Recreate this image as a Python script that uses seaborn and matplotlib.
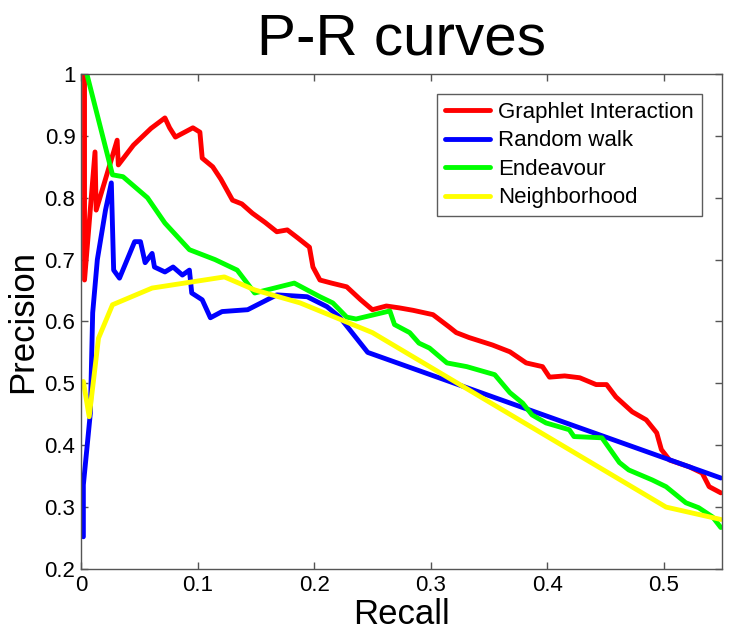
import numpy as np
import pandas as pd
import matplotlib
matplotlib.use("Agg")
import matplotlib.pyplot as plt
import seaborn as sns

# values
gi_recall = [0.003, 0.003, 0.012, 0.013, 0.031, 0.032, 0.045, 0.060, 0.072, 0.076, 0.081,
             0.096, 0.102, 0.104, 0.113, 0.120, 0.130, 0.138, 0.147, 0.158, 0.168, 0.177,
             0.186, 0.196, 0.199, 0.205, 0.215, 0.228, 0.240, 0.250, 0.262, 0.273, 0.285,
             0.302, 0.316, 0.322, 0.333, 0.343, 0.353, 0.368, 0.382, 0.396, 0.402, 0.415,
             0.428, 0.442, 0.451, 0.459, 0.473, 0.485, 0.494, 0.498, 0.505, 0.522, 0.533,
             0.539, 0.549]
gi_precision = [1.0, 0.667, 0.874, 0.78, 0.893, 0.853, 0.885, 0.912, 0.929, 0.913, 0.898,
                0.913, 0.906, 0.864, 0.85, 0.83, 0.796, 0.790, 0.775, 0.760, 0.745, 0.748,
                0.735, 0.72, 0.688, 0.667, 0.662, 0.656, 0.635, 0.619, 0.625, 0.622, 0.618,
                0.611, 0.591, 0.582, 0.574, 0.568, 0.562, 0.551, 0.533, 0.527, 0.51, 0.512,
                0.509, 0.498, 0.498, 0.478, 0.454, 0.441, 0.42, 0.393, 0.376, 0.365, 0.355,
                0.333, 0.323]

rw_recall = [0.002, 0.002, 0.008, 0.010, 0.014, 0.021, 0.026, 0.028, 0.033, 0.046, 0.051,
             0.055, 0.061, 0.063, 0.072, 0.079, 0.087, 0.093, 0.095, 0.104, 0.111, 0.121,
             0.143, 0.168, 0.194, 0.211, 0.222, 0.246, 0.549]
rw_precision = [0.252, 0.336, 0.452, 0.614, 0.70, 0.78, 0.824, 0.683, 0.67, 0.729, 0.729,
                0.695, 0.71, 0.688, 0.68, 0.688, 0.675, 0.683, 0.646, 0.635, 0.606, 0.616,
                0.619, 0.643, 0.64, 0.624, 0.607, 0.55, 0.347]

en_recall = [0.005, 0.027, 0.036, 0.057, 0.072, 0.093, 0.115, 0.134, 0.149, 0.166, 0.183,
             0.205, 0.216, 0.228, 0.236, 0.265, 0.269, 0.282, 0.290, 0.299, 0.314, 0.331,
             0.355, 0.368, 0.379, 0.387, 0.399, 0.419, 0.423, 0.447, 0.462, 0.470, 0.490,
             0.502, 0.519, 0.530, 0.542, 0.549]
en_precision = [1.0, 0.837, 0.834, 0.80, 0.759, 0.716, 0.70, 0.683, 0.646, 0.654, 0.662,
                0.64, 0.63, 0.607, 0.604, 0.617, 0.595, 0.582, 0.565, 0.557, 0.533, 0.527,
                0.514, 0.485, 0.468, 0.449, 0.436, 0.425, 0.414, 0.412, 0.372, 0.36, 0.344,
                0.333, 0.307, 0.299, 0.284, 0.267]

nb_recall = [0.002, 0.007, 0.015, 0.027, 0.061, 0.123, 0.149, 0.188, 0.250, 0.502, 0.549]
nb_precision = [0.503, 0.446, 0.573, 0.627, 0.654, 0.672, 0.651, 0.63, 0.582, 0.30, 0.28]

names = ["Graphlet Interaction", "Random walk", "Endeavour", "Neighborhood"]
colors = ["#ff0000", "#0000ff", "#00ff00", "#ffff00"]

frames = []
for name, r, p in zip(names,
                      [gi_recall, rw_recall, en_recall, nb_recall],
                      [gi_precision, rw_precision, en_precision, nb_precision]):
    frames.append(pd.DataFrame({"Recall": r, "Precision": p, "Method": name}))
df = pd.concat(frames, ignore_index=True)

sns.set_style("white")
plt.rcParams["font.family"] = ["Liberation Sans", "DejaVu Sans"]
plt.rcParams["text.color"] = "black"
plt.rcParams["axes.labelcolor"] = "black"

fig = plt.figure(figsize=(7.3, 6.35), dpi=100)
ax = fig.add_axes([0.111, 0.104, 0.878, 0.7795])

sns.lineplot(data=df, x="Recall", y="Precision", hue="Method", hue_order=names,
             palette=colors, sort=False, estimator=None, linewidth=3.5, ax=ax)

ax.set_xlim(0, 0.55)
ax.set_ylim(0.2, 1.0)
ax.set_xticks([0, 0.1, 0.2, 0.3, 0.4, 0.5])
ax.set_xticklabels(["0", "0.1", "0.2", "0.3", "0.4", "0.5"])
ax.set_yticks([0.2, 0.3, 0.4, 0.5, 0.6, 0.7, 0.8, 0.9, 1.0])
ax.set_yticklabels(["0.2", "0.3", "0.4", "0.5", "0.6", "0.7", "0.8", "0.9", "1"])
ax.tick_params(direction="in", length=5, width=1, color="#555555", labelcolor="black",
               labelsize=16, top=True, right=True, bottom=True, left=True, pad=4)
for s in ax.spines.values():
    s.set_color("#555555")
    s.set_linewidth(1)

ax.set_xlabel("Recall", fontsize=25, labelpad=2)
ax.set_ylabel("Precision", fontsize=25, labelpad=4)
ax.set_title("P-R curves", fontsize=42, pad=14)

leg = ax.legend(loc="upper right", fontsize=16, frameon=True, fancybox=False,
                edgecolor="#333333", handlelength=2.0, borderpad=0.35,
                labelspacing=0.34, handletextpad=0.4, borderaxespad=0.9)
leg.get_frame().set_linewidth(1)

fig.savefig("out.png", dpi=100)
